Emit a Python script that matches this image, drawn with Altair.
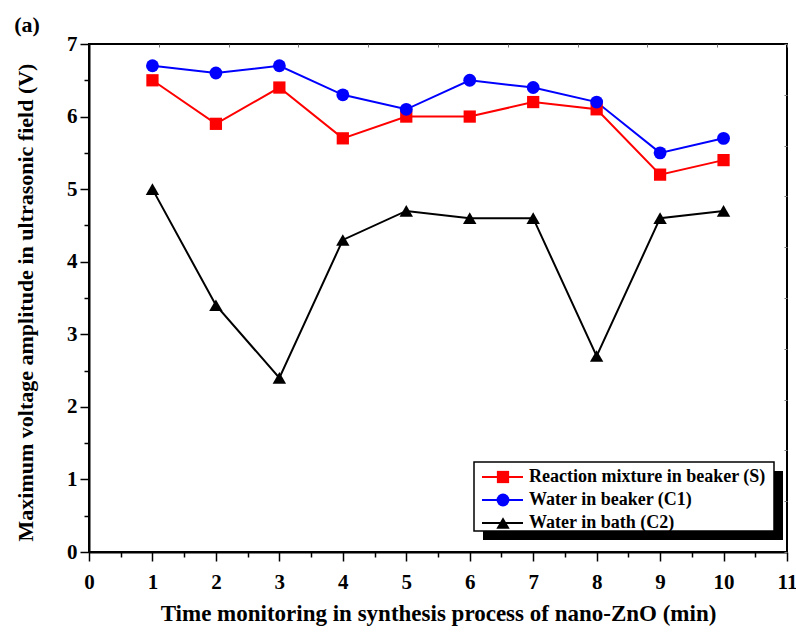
import altair as alt
import pandas as pd

# ---------------- data ----------------
time_min = [1, 2, 3, 4, 5, 6, 7, 8, 9, 10]
reaction_mixture_S = [6.5, 5.9, 6.4, 5.7, 6.0, 6.0, 6.2, 6.1, 5.2, 5.4]
water_beaker_C1 = [6.7, 6.6, 6.7, 6.3, 6.1, 6.5, 6.4, 6.2, 5.5, 5.7]
water_bath_C2 = [5.0, 3.4, 2.4, 4.3, 4.7, 4.6, 4.6, 2.7, 4.6, 4.7]

series_names = ["Reaction mixture in beaker (S)", "Water in beaker (C1)", "Water in bath (C2)"]
series_colors = ["#ff0000", "#0000ff", "#000000"]
series_shapes = ["square", "circle", "triangle-up"]
series_sizes = [150, 180, 200]

x_tick_values = [0, 0.5, 1, 1.5, 2, 2.5, 3, 3.5, 4, 4.5, 5, 5.5, 6, 6.5, 7, 7.5,
                 8, 8.5, 9, 9.5, 10, 10.5, 11]
y_tick_values = [0, 0.5, 1, 1.5, 2, 2.5, 3, 3.5, 4, 4.5, 5, 5.5, 6, 6.5, 7]
top_tick_values = [0, 1.1, 2.2, 3.3, 4.4, 5.5, 6.6, 7.7, 8.8, 9.9, 11]
right_tick_values = [0, 0.7, 1.4, 2.1, 2.8, 3.5, 4.2, 4.9, 5.6, 6.3, 7]

x_title = "Time monitoring in synthesis process of nano-ZnO (min)"
y_title = "Maximum voltage amplitude in ultrasonic field (V)"
panel_label = "(a)"

rows = []
for name, vals in zip(series_names, [reaction_mixture_S, water_beaker_C1, water_bath_C2]):
    for t, v in zip(time_min, vals):
        rows.append({"time": t, "value": v, "series": name})
df = pd.DataFrame(rows)
legend_df = pd.DataFrame({"series": series_names})
one = pd.DataFrame({"k": [0]})

FONT = "Liberation Serif"
W, H = 698, 508

x_scale = alt.Scale(domain=[0, 11], nice=False, zero=False)
y_scale = alt.Scale(domain=[0, 7], nice=False, zero=False)

color_enc = alt.Color("series:N", scale=alt.Scale(domain=series_names, range=series_colors), legend=None)
shape_enc = alt.Shape("series:N", scale=alt.Scale(domain=series_names, range=series_shapes), legend=None)
size_enc = alt.Size("series:N", scale=alt.Scale(domain=series_names, range=series_sizes), legend=None)

minor_test = "datum.value % 1 !== 0"
int_label = "datum.value % 1 === 0 ? format(datum.value, 'd') : ''"

x_axis = alt.Axis(
    values=x_tick_values, labelExpr=int_label, labelOverlap=False, labelFlush=False,
    tickSize={"condition": {"test": minor_test, "value": 5}, "value": 9},
    tickWidth=1.5, domainWidth=2, grid=False,
    labelFontSize=21, labelBaseline="alphabetic", labelPadding=27,
    title=x_title, titleFontSize=23, titleX=W / 2, titleY=68,
    titleBaseline="alphabetic", titleAlign="center",
)
y_axis = alt.Axis(
    values=y_tick_values, labelExpr=int_label, labelOverlap=False, labelFlush=False,
    tickSize={"condition": {"test": minor_test, "value": 5}, "value": 9},
    tickWidth=1.5, domainWidth=2, grid=False,
    labelFontSize=21, labelPadding=3,
    title=y_title, titleFontSize=22, titleX=-57, titleY=258, titleAngle=-90,
    titleBaseline="alphabetic", titleAlign="center",
)
top_axis = alt.Axis(orient="top", values=top_tick_values, labels=False, domain=False,
                    tickSize=3, offset=-3, tickColor="#777777", tickWidth=1, grid=False, title=None)
right_axis = alt.Axis(orient="right", values=right_tick_values, labels=False, domain=False,
                      tickSize=3, offset=-3, tickColor="#777777", tickWidth=1, grid=False, title=None)

base = alt.Chart(df)
lines = base.mark_line(strokeWidth=2).encode(
    x=alt.X("time:Q", scale=x_scale, axis=x_axis),
    y=alt.Y("value:Q", scale=y_scale, axis=y_axis),
    color=color_enc,
)
points = base.mark_point(filled=True, opacity=1).encode(
    x=alt.X("time:Q", scale=x_scale, axis=top_axis),
    y=alt.Y("value:Q", scale=y_scale, axis=right_axis),
    color=color_enc, shape=shape_enc, size=size_enc,
)
data_layer = alt.layer(lines, points).resolve_axis(x="independent", y="independent")

# ---------------- legend ----------------
shadow = alt.Chart(one).mark_rect(color="black").encode(
    x=alt.value(394), x2=alt.value(694), y=alt.value(427), y2=alt.value(496))
box = alt.Chart(one).mark_rect(fill="white", stroke="black", strokeWidth=1.5).encode(
    x=alt.value(385), x2=alt.value(685), y=alt.value(418), y2=alt.value(487))
leg_y = alt.Y("series:N", scale=alt.Scale(type="point", domain=series_names, range=[433, 479], padding=0),
              axis=None)
leg = alt.Chart(legend_df)
leg_rule = leg.mark_rule(strokeWidth=2).encode(x=alt.value(393), x2=alt.value(434), y=leg_y, color=color_enc)
leg_pts = leg.mark_point(filled=True, opacity=1).encode(
    x=alt.value(414), y=leg_y, color=color_enc, shape=shape_enc, size=size_enc)
leg_txt = leg.mark_text(align="left", baseline="middle", font=FONT, fontSize=18, fontWeight="bold",
                        color="black").encode(x=alt.value(440), y=leg_y, text="series:N")

label_a = alt.Chart(one).mark_text(text=panel_label, font=FONT, fontSize=22, fontWeight="bold",
                                   align="center", baseline="alphabetic", color="black").encode(
    x=alt.value(-62), y=alt.value(-12))

chart = alt.layer(data_layer, shadow, box, leg_rule, leg_pts, leg_txt, label_a).resolve_scale(
    y="independent"
).properties(
    width=W, height=H,
    autosize=alt.AutoSizeParams(type="none"),
    padding={"left": 89, "top": 44, "right": 9, "bottom": 81},
    background="white",
).configure_view(
    stroke="black", strokeWidth=2
).configure_axis(
    labelFont=FONT, titleFont=FONT, labelFontWeight="bold", titleFontWeight="bold",
    labelColor="black", titleColor="black", domainColor="black", tickColor="black",
)

chart.save("out.html", embed_options={"renderer": "svg", "actions": False})
